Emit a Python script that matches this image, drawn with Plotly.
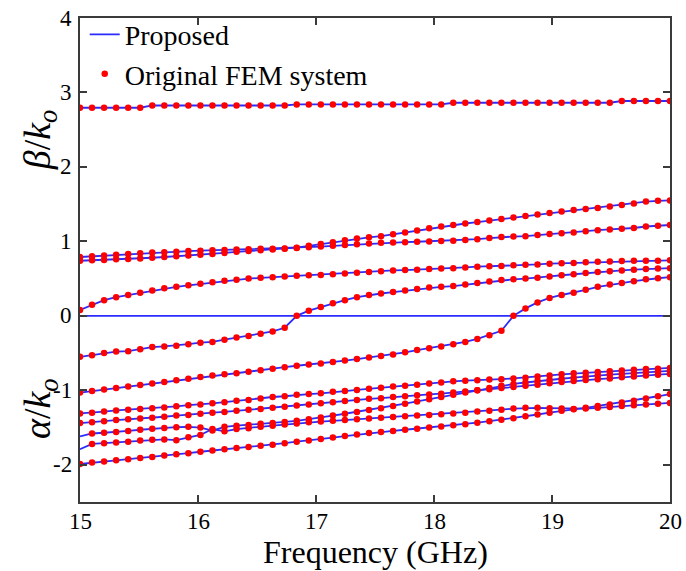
import numpy as np
import plotly.graph_objects as go

# Frequency sweep (GHz): 50 samples from 15 to 20
freq = np.linspace(15, 20, 50)

# beta/k0 modes
beta_top = [2.795]*6 + [2.825]*12 + [2.84]*13 + [2.862]*14 + [2.885]*5
beta_p1 = [0.74, 0.745, 0.75, 0.76, 0.765, 0.77, 0.78, 0.79, 0.80, 0.81,
           0.82, 0.83, 0.845, 0.86, 0.87, 0.88, 0.89, 0.90, 0.915, 0.94,
           0.965, 0.99, 1.015, 1.04, 1.055, 1.07, 1.095, 1.12, 1.145, 1.175,
           1.20, 1.22, 1.24, 1.26, 1.28, 1.30, 1.32, 1.34, 1.36, 1.38,
           1.40, 1.42, 1.435, 1.45, 1.47, 1.49, 1.51, 1.535, 1.545, 1.55]
beta_p2 = [0.79, 0.80, 0.81, 0.82, 0.83, 0.84, 0.85, 0.855, 0.86, 0.87,
           0.875, 0.88, 0.885, 0.89, 0.895, 0.90, 0.90, 0.905, 0.91, 0.92,
           0.93, 0.94, 0.95, 0.96, 0.97, 0.98, 0.985, 0.99, 0.995, 1.00,
           1.005, 1.01, 1.02, 1.03, 1.045, 1.06, 1.065, 1.07, 1.085, 1.10,
           1.11, 1.12, 1.135, 1.15, 1.16, 1.17, 1.18, 1.20, 1.21, 1.22]
beta_c = [0.08, 0.15, 0.21, 0.25, 0.28, 0.31, 0.34, 0.37, 0.39, 0.41,
          0.43, 0.45, 0.47, 0.485, 0.50, 0.51, 0.52, 0.53, 0.54, 0.545,
          0.55, 0.56, 0.57, 0.58, 0.59, 0.60, 0.61, 0.615, 0.62, 0.63,
          0.635, 0.64, 0.65, 0.66, 0.665, 0.67, 0.68, 0.685, 0.69, 0.70,
          0.705, 0.71, 0.72, 0.725, 0.73, 0.735, 0.74, 0.74, 0.74, 0.745]
mode_d = [-0.55, -0.53, -0.50, -0.48, -0.475, -0.45, -0.42, -0.41, -0.40, -0.38,
          -0.36, -0.35, -0.32, -0.29, -0.27, -0.24, -0.21, -0.16, 0.0, 0.07,
          0.12, 0.17, 0.21, 0.25, 0.28, 0.30, 0.32, 0.34, 0.36, 0.38,
          0.39, 0.40, 0.42, 0.44, 0.46, 0.48, 0.49, 0.50, 0.51, 0.53,
          0.545, 0.56, 0.575, 0.59, 0.60, 0.61, 0.62, 0.63, 0.635, 0.64]
mode_e = [-1.03, -1.01, -0.99, -0.97, -0.95, -0.93, -0.91, -0.89, -0.865, -0.845,
          -0.82, -0.80, -0.785, -0.77, -0.75, -0.73, -0.71, -0.69, -0.67, -0.655,
          -0.64, -0.62, -0.60, -0.58, -0.56, -0.54, -0.52, -0.49, -0.46, -0.435,
          -0.41, -0.38, -0.35, -0.31, -0.26, -0.20, 0.0, 0.10, 0.18, 0.24,
          0.28, 0.31, 0.35, 0.39, 0.42, 0.44, 0.465, 0.49, 0.505, 0.52]
zero_mode = [0.0]*50

# alpha/k0 modes
alpha_a = [-1.31, -1.30, -1.285, -1.27, -1.26, -1.25, -1.24, -1.23, -1.215, -1.20,
           -1.19, -1.175, -1.16, -1.14, -1.13, -1.11, -1.09, -1.08, -1.06, -1.05,
           -1.04, -1.02, -1.01, -0.995, -0.98, -0.965, -0.95, -0.94, -0.925, -0.91,
           -0.895, -0.88, -0.87, -0.865, -0.855, -0.85, -0.84, -0.83, -0.815, -0.80,
           -0.785, -0.77, -0.765, -0.755, -0.745, -0.735, -0.725, -0.715, -0.71, -0.70]
alpha_b = [-1.44, -1.43, -1.415, -1.40, -1.39, -1.38, -1.37, -1.355, -1.34, -1.33,
           -1.315, -1.30, -1.29, -1.275, -1.26, -1.25, -1.235, -1.22, -1.205, -1.19,
           -1.175, -1.16, -1.145, -1.13, -1.115, -1.105, -1.09, -1.08, -1.065, -1.055,
           -1.045, -1.03, -1.015, -1.0, -0.985, -0.97, -0.955, -0.94, -0.925, -0.905,
           -0.89, -0.875, -0.86, -0.85, -0.84, -0.825, -0.815, -0.80, -0.79, -0.78]
alpha_c = [-1.62, -1.58, -1.57, -1.56, -1.545, -1.53, -1.515, -1.505, -1.495, -1.49,
           -1.50, -1.54, -1.49, -1.475, -1.465, -1.45, -1.44, -1.425, -1.41, -1.39,
           -1.365, -1.34, -1.315, -1.29, -1.265, -1.24, -1.21, -1.18, -1.15, -1.12,
           -1.09, -1.06, -1.03, -1.0, -0.97, -0.94, -0.915, -0.895, -0.875, -0.86,
           -0.845, -0.83, -0.815, -0.80, -0.79, -0.78, -0.77, -0.76, -0.75, -0.74]
alpha_d = [-1.79, -1.72, -1.71, -1.70, -1.69, -1.675, -1.665, -1.66, -1.67, -1.63,
           -1.60, -1.52, -1.55, -1.52, -1.51, -1.49, -1.475, -1.46, -1.445, -1.43,
           -1.42, -1.41, -1.40, -1.39, -1.38, -1.37, -1.36, -1.35, -1.34, -1.33,
           -1.32, -1.31, -1.30, -1.285, -1.275, -1.26, -1.245, -1.235, -1.235, -1.24,
           -1.245, -1.25, -1.245, -1.235, -1.225, -1.21, -1.20, -1.19, -1.18, -1.17]
alpha_e = [-1.99, -1.97, -1.955, -1.94, -1.925, -1.91, -1.895, -1.875, -1.86, -1.845,
           -1.825, -1.81, -1.79, -1.775, -1.76, -1.745, -1.73, -1.71, -1.69, -1.675,
           -1.655, -1.635, -1.615, -1.595, -1.575, -1.56, -1.545, -1.53, -1.515, -1.50,
           -1.485, -1.47, -1.455, -1.435, -1.415, -1.395, -1.375, -1.35, -1.325, -1.30,
           -1.275, -1.255, -1.235, -1.21, -1.19, -1.165, -1.14, -1.11, -1.08, -1.05]

x_ticks = [15, 16, 17, 18, 19, 20]
x_tick_text = ["15", "16", "17", "18", "19", "20"]
y_ticks = [-2, -1, 0, 1, 2, 3, 4]
y_tick_text = ["-2", "-1", "0", "1", "2", "3", "4"]

proposed = [beta_top, beta_p1, beta_p2, beta_c, mode_d, mode_e,
            alpha_a, alpha_b, alpha_c, alpha_d, alpha_e, zero_mode]
fem = [beta_top, beta_p1, beta_p2, beta_c, mode_d, mode_e,
       alpha_a, alpha_b, alpha_c, alpha_d, alpha_e]
fem_start = [0, 0, 0, 0, 0, 0, 0, 0, 1, 1, 0]

FONT = "Liberation Serif"
BLUE = "#2b2bff"
RED = "#ff0000"

fig = go.Figure()
for k, ys in enumerate(proposed):
    fig.add_trace(go.Scatter(
        x=freq, y=ys, mode="lines",
        line=dict(color=BLUE, width=1.8),
        name="Proposed", showlegend=(k == 0), legendgroup="p"))
for k, ys in enumerate(fem):
    s = fem_start[k]
    fig.add_trace(go.Scatter(
        x=freq[s:], y=ys[s:], mode="markers",
        marker=dict(color=RED, size=6.5, line=dict(width=0)),
        name="Original FEM system", showlegend=(k == 0), legendgroup="f"))

axis_common = dict(
    showline=True, linecolor="#3a3a3a", linewidth=2, mirror="allticks",
    ticks="inside", ticklen=7, tickwidth=1.5, tickcolor="#3a3a3a",
    showgrid=False, zeroline=False, automargin=False, showticklabels=False,
)

annotations = []
# tick labels, placed on the axes' own coordinates
for v, t in zip(x_ticks, x_tick_text):
    annotations.append(dict(text=t, x=v, y=-0.01, xref="x", yref="paper",
                            xanchor="center", yanchor="top", showarrow=False,
                            font=dict(family=FONT, size=23, color="black")))
for v, t in zip(y_ticks, y_tick_text):
    annotations.append(dict(text=t, x=-0.011, y=v, xref="paper", yref="y",
                            xanchor="right", yanchor="middle", showarrow=False,
                            font=dict(family=FONT, size=23, color="black")))
# axis titles
annotations.append(dict(text="Frequency (GHz)", x=0.5, y=-0.104,
                        xref="paper", yref="paper", xanchor="center",
                        yanchor="middle", showarrow=False,
                        font=dict(family=FONT, size=32, color="black")))
annotations.append(dict(text="<i>β</i>/<i>k</i><sub><i>o</i></sub>", x=-0.068, y=2.37,
                        xref="paper", yref="y", xanchor="center", yanchor="middle",
                        textangle=-90, showarrow=False,
                        font=dict(family=FONT, size=38, color="black")))
annotations.append(dict(text="<i>α</i>/<i>k</i><sub><i>o</i></sub>", x=-0.068, y=-1.24,
                        xref="paper", yref="y", xanchor="center", yanchor="middle",
                        textangle=-90, showarrow=False,
                        font=dict(family=FONT, size=38, color="black")))

fig.update_layout(
    template="none",
    width=686, height=571,
    margin=dict(l=80, r=16, t=18, b=69, autoexpand=False),
    paper_bgcolor="white", plot_bgcolor="white",
    font=dict(family=FONT, color="black", size=22),
    xaxis=dict(range=[15, 20], tickvals=x_ticks, **axis_common),
    yaxis=dict(range=[-2.5, 4], tickvals=y_ticks, **axis_common),
    legend=dict(x=0.008, y=1.017, xanchor="left", yanchor="top",
                bgcolor="rgba(0,0,0,0)", borderwidth=0,
                font=dict(family=FONT, size=28, color="black"),
                tracegroupgap=0, itemwidth=30),
    showlegend=True,
    annotations=annotations,
)

fig.write_html("out.html")
